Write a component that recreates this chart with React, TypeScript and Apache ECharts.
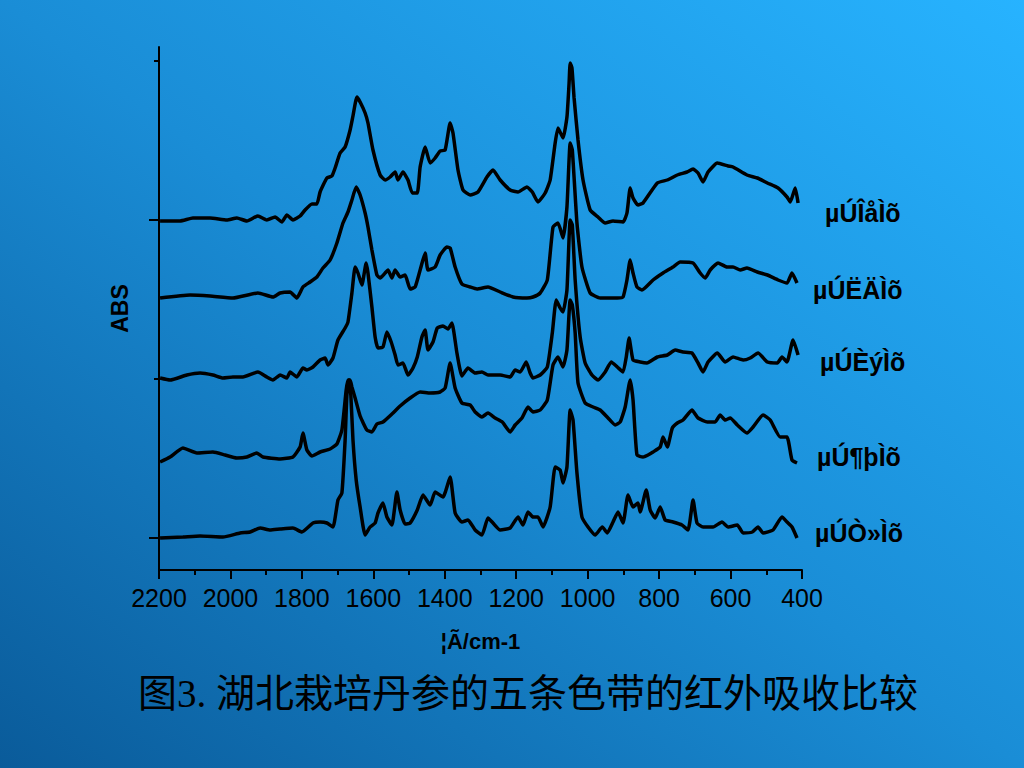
import React, { useEffect, useRef } from "react";
import * as echarts from "echarts";

// Band names (as shown, legacy-encoded text kept verbatim)
const bandNames = ["µÚÎåÌõ", "µÚËÄÌõ", "µÚÈýÌõ", "µÚ¶þÌõ", "µÚÒ»Ìõ"];

// [wavenumber cm-1, absorbance (offset, arbitrary units)]
const band5: [number, number][] = [
  [2197, 317], [2141, 317], [2105, 320], [2057, 320], [2010, 318], [1982, 320], [1954, 317], [1923, 322],
  [1898, 318], [1875, 321], [1856, 316], [1842, 323], [1825, 318], [1805, 322], [1791, 328], [1772, 334],
  [1758, 334], [1749, 346], [1730, 360], [1716, 362], [1707, 370], [1693, 385], [1679, 391], [1665, 408],
  [1657, 422], [1646, 441], [1637, 436], [1623, 425], [1615, 415], [1601, 388], [1581, 363], [1567, 358],
  [1553, 361], [1539, 366], [1531, 358], [1517, 366], [1503, 358], [1491, 345], [1477, 345], [1469, 371],
  [1455, 391], [1441, 375], [1427, 380], [1413, 387], [1399, 388], [1385, 415], [1377, 405], [1363, 368],
  [1349, 348], [1329, 343], [1307, 346], [1282, 361], [1265, 368], [1245, 358], [1217, 348], [1195, 346],
  [1170, 351], [1155, 346], [1139, 336], [1119, 345], [1105, 358], [1091, 395], [1083, 410], [1069, 400],
  [1058, 421], [1052, 455], [1049, 475], [1044, 470], [1038, 440], [1027, 398], [1013, 358], [993, 328],
  [971, 321], [951, 315], [929, 317], [901, 316], [890, 325], [881, 350], [873, 340], [859, 333],
  [845, 335], [805, 355], [777, 358], [749, 363], [722, 366], [705, 369], [691, 365], [677, 356],
  [663, 366], [637, 375], [607, 372], [593, 371], [554, 363], [525, 360], [497, 355], [467, 350],
  [442, 341], [433, 336], [419, 350], [411, 335],
];

const band4: [number, number][] = [
  [2197, 240], [2113, 243], [2057, 242], [1993, 240], [1923, 245], [1881, 241], [1861, 245], [1833, 246],
  [1814, 240], [1797, 251], [1777, 256], [1758, 261], [1741, 270], [1721, 278], [1702, 295], [1685, 315],
  [1671, 326], [1660, 338], [1648, 351], [1637, 343], [1623, 325], [1615, 311], [1604, 288], [1590, 263],
  [1581, 260], [1567, 265], [1559, 268], [1548, 260], [1539, 268], [1525, 261], [1511, 263], [1497, 249],
  [1483, 251], [1469, 268], [1455, 285], [1447, 268], [1427, 271], [1413, 283], [1394, 291], [1385, 290],
  [1371, 271], [1352, 254], [1329, 251], [1310, 249], [1279, 251], [1245, 246], [1209, 241], [1170, 240],
  [1153, 241], [1133, 245], [1113, 258], [1097, 311], [1083, 315], [1069, 300], [1058, 331], [1049, 395],
  [1043, 388], [1030, 315], [1016, 271], [993, 245], [965, 240], [917, 240], [901, 241], [890, 258],
  [881, 278], [873, 265], [862, 251], [848, 248], [817, 258], [789, 265], [761, 271], [741, 276],
  [705, 275], [685, 265], [671, 260], [657, 268], [635, 275], [610, 271], [593, 271], [573, 268],
  [554, 270], [525, 266], [497, 263], [467, 258], [442, 255], [428, 265], [414, 255],
];

const band3: [number, number][] = [
  [2197, 160], [2169, 158], [2122, 163], [2085, 165], [2049, 163], [2021, 160], [1993, 161], [1965, 161],
  [1923, 166], [1898, 161], [1881, 158], [1861, 163], [1842, 160], [1833, 166], [1814, 161], [1797, 170],
  [1786, 168], [1769, 171], [1749, 178], [1735, 180], [1727, 173], [1713, 180], [1699, 198], [1679, 210],
  [1671, 216], [1660, 245], [1651, 271], [1643, 265], [1632, 253], [1620, 275], [1615, 265], [1604, 231],
  [1595, 201], [1587, 190], [1573, 191], [1562, 206], [1550, 196], [1539, 183], [1531, 173], [1517, 175],
  [1503, 163], [1489, 170], [1477, 181], [1464, 201], [1455, 208], [1447, 188], [1433, 196], [1421, 210],
  [1405, 212], [1391, 209], [1380, 215], [1366, 185], [1352, 162], [1335, 170], [1315, 165], [1296, 166],
  [1279, 163], [1245, 163], [1217, 161], [1203, 168], [1189, 166], [1172, 176], [1161, 165], [1153, 160],
  [1133, 163], [1113, 171], [1099, 205], [1088, 238], [1077, 230], [1069, 226], [1058, 248], [1049, 318],
  [1043, 313], [1035, 258], [1021, 201], [1007, 175], [988, 163], [971, 158], [951, 166], [934, 176],
  [917, 171], [901, 166], [892, 181], [884, 200], [873, 178], [853, 176], [834, 175], [805, 181],
  [777, 183], [755, 188], [733, 186], [708, 185], [691, 175], [677, 166], [663, 176], [637, 185],
  [615, 176], [593, 181], [565, 178], [545, 180], [523, 185], [497, 176], [469, 175], [456, 181],
  [442, 176], [425, 198], [411, 183],
];

const band2: [number, number][] = [
  [2197, 76], [2169, 81], [2133, 90], [2094, 85], [2049, 86], [2015, 83], [1982, 80], [1954, 81],
  [1926, 85], [1909, 81], [1861, 79], [1825, 81], [1805, 91], [1797, 105], [1786, 88], [1772, 82],
  [1749, 86], [1721, 89], [1702, 94], [1688, 108], [1676, 148], [1671, 158], [1665, 158], [1660, 151],
  [1651, 140], [1637, 122], [1618, 108], [1604, 106], [1590, 114], [1573, 116], [1548, 124], [1525, 132],
  [1497, 140], [1469, 146], [1441, 145], [1413, 146], [1399, 150], [1385, 175], [1371, 150], [1352, 135],
  [1329, 133], [1315, 126], [1296, 121], [1279, 125], [1259, 120], [1239, 116], [1217, 106], [1203, 113],
  [1184, 120], [1167, 131], [1153, 126], [1133, 128], [1113, 138], [1097, 173], [1083, 181], [1069, 171],
  [1058, 188], [1049, 238], [1043, 233], [1035, 205], [1027, 155], [1007, 135], [985, 131], [965, 128],
  [943, 120], [923, 113], [909, 116], [895, 131], [881, 158], [873, 138], [862, 83], [845, 81],
  [831, 83], [817, 86], [797, 91], [789, 101], [777, 91], [763, 110], [749, 115], [733, 118],
  [708, 128], [691, 120], [665, 116], [643, 116], [629, 123], [615, 118], [601, 120], [581, 113],
  [554, 105], [537, 111], [509, 123], [489, 118], [461, 101], [442, 101], [428, 78], [414, 75],
];

const band1: [number, number][] = [
  [2197, 0], [2133, 1], [2085, 2], [2021, 1], [1973, 5], [1945, 6], [1917, 10], [1889, 8],
  [1861, 9], [1825, 10], [1800, 6], [1769, 15], [1749, 16], [1730, 15], [1713, 11], [1699, 38],
  [1688, 45], [1679, 98], [1674, 143], [1668, 158], [1663, 143], [1657, 98], [1648, 58], [1637, 31],
  [1623, 3], [1609, 11], [1595, 15], [1587, 25], [1573, 35], [1562, 21], [1548, 13], [1534, 46],
  [1525, 28], [1511, 14], [1497, 15], [1477, 28], [1461, 43], [1441, 33], [1427, 46], [1405, 41],
  [1385, 61], [1371, 25], [1352, 16], [1335, 18], [1315, 8], [1296, 3], [1279, 20], [1265, 15],
  [1245, 8], [1217, 10], [1195, 21], [1181, 13], [1167, 26], [1153, 21], [1139, 21], [1125, 11],
  [1105, 31], [1091, 71], [1077, 68], [1069, 55], [1058, 71], [1049, 128], [1041, 118], [1030, 65],
  [1016, 21], [999, 11], [979, 3], [959, 11], [945, 5], [929, 16], [915, 26], [901, 15],
  [887, 43], [873, 31], [859, 35], [853, 26], [836, 48], [825, 28], [811, 20], [797, 31],
  [783, 18], [761, 16], [736, 13], [719, 8], [705, 38], [694, 15], [677, 11], [649, 11],
  [624, 16], [607, 11], [581, 13], [565, 5], [539, 6], [523, 11], [509, 5], [481, 8],
  [456, 21], [442, 16], [428, 11], [414, 0],
];

const bandData = [band5, band4, band3, band2, band1];
const labelOffsets: [number, number][] = [[27, 10], [16, 7], [22, 7], [20, -6], [18, -5]];

const xTickInterval = 200;
const yMajorTicks = [0, 318];
const yMinorTicks = [159, 477];

const xAxisTitle = "¦Ã/cm-1";
const yAxisTitle = "ABS";
const caption = "图3. 湖北栽培丹参的五条色带的红外吸收比较";

export default function App() {
  const ref = useRef<HTMLDivElement>(null);
  useEffect(() => {
    if (!ref.current) return;
    const chart = echarts.init(ref.current, undefined, { renderer: "svg" });
    const black = "#000";
    const font = "'Liberation Sans', Arial, sans-serif";
    chart.setOption({
      animation: false,
      backgroundColor: new echarts.graphic.LinearGradient(0, 1, 1, 0, [
        { offset: 0, color: "#0a5b9a" },
        { offset: 0.5, color: "#1a8dd6" },
        { offset: 1, color: "#27b3ff" },
      ]),
      grid: { left: 159, right: 222, top: 47, bottom: 198 },
      xAxis: {
        type: "value",
        min: 400,
        max: 2200,
        interval: xTickInterval,
        inverse: true,
        name: xAxisTitle,
        nameLocation: "middle",
        nameGap: 60,
        nameTextStyle: { color: black, fontSize: 22, fontWeight: "bold", fontFamily: font },
        axisLine: { onZero: false, lineStyle: { color: black, width: 2 } },
        axisTick: { length: 9, lineStyle: { color: black, width: 2 } },
        minorTick: { show: true, splitNumber: 2, length: 5, lineStyle: { color: black, width: 2 } },
        axisLabel: { color: black, fontSize: 25, fontFamily: font, margin: 15, formatter: (v: number) => String(v) },
        splitLine: { show: false },
      },
      yAxis: [
        {
          type: "value",
          min: -32,
          max: 491,
          name: yAxisTitle,
          nameLocation: "middle",
          nameRotate: 90,
          nameGap: 28,
          nameTextStyle: { color: black, fontSize: 23, fontWeight: "bold", fontFamily: font },
          axisLine: { show: true, onZero: false, lineStyle: { color: black, width: 2 } },
          axisTick: { show: true, customValues: yMajorTicks, length: 10, lineStyle: { color: black, width: 2 } },
          axisLabel: { show: false },
          splitLine: { show: false },
        },
        {
          type: "value",
          min: -32,
          max: 491,
          position: "left",
          axisLine: { show: false, onZero: false },
          axisTick: { show: true, customValues: yMinorTicks, length: 5, lineStyle: { color: black, width: 2 } },
          axisLabel: { show: false },
          splitLine: { show: false },
        },
      ],
      series: bandData.map((d, i) => ({
        type: "line",
        name: bandNames[i],
        data: d,
        yAxisIndex: 0,
        showSymbol: false,
        smooth: 0.15,
        lineStyle: { color: black, width: 3.5 },
        endLabel: {
          show: true,
          formatter: bandNames[i],
          color: black,
          fontSize: 25,
          fontWeight: "bold",
          fontFamily: font,
          distance: 0,
          align: "left",
          verticalAlign: "middle",
          offset: labelOffsets[i],
        },
      })),
      graphic: [
        {
          type: "text",
          left: 138,
          top: 674,
          style: {
            text: caption,
            fill: black,
            font: "39px 'Liberation Serif', 'Noto Sans CJK SC', serif",
          },
        },
      ],
    });
    return () => chart.dispose();
  }, []);
  return <div ref={ref} style={{ position: "absolute", left: 0, top: 0, width: 1024, height: 768 }} />;
}
